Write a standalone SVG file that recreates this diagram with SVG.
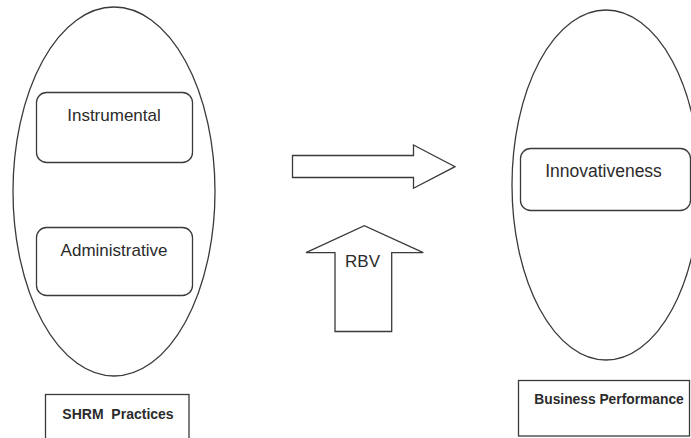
<svg xmlns="http://www.w3.org/2000/svg" width="691" height="438" viewBox="0 0 691 438">
<style>
.shape{fill:#fff;stroke:#3a3a3a;stroke-width:1.3}
.lbl{font-family:"Liberation Sans",Arial,sans-serif;fill:#2b2b2b;text-anchor:middle}
.b{font-weight:bold}
</style>
<rect x="0" y="0" width="691" height="438" fill="#fff"/>
<g id="shrm">
<ellipse class="shape" cx="114" cy="191.5" rx="101" ry="184.5"/>
</g>
<g id="instrumental">
<rect class="shape" x="36.5" y="92.5" width="156" height="70" rx="10"/>
<text class="lbl" x="114" y="120.5" font-size="17">Instrumental</text>
</g>
<g id="administrative">
<rect class="shape" x="36.5" y="227.5" width="156" height="68" rx="10"/>
<text class="lbl" x="114" y="255.5" font-size="17">Administrative</text>
</g>
<g id="shrm-label">
<rect class="shape" x="45.5" y="394.5" width="143.5" height="50"/>
<text class="lbl b" x="118" y="419" font-size="14" xml:space="preserve">SHRM  Practices</text>
</g>
<g id="business">
<ellipse class="shape" cx="606" cy="185" rx="94" ry="175"/>
</g>
<g id="innovativeness">
<rect class="shape" x="520.5" y="148.5" width="170" height="62" rx="10"/>
<text class="lbl" x="603.5" y="176.5" font-size="17.5">Innovativeness</text>
</g>
<g id="business-label">
<rect class="shape" x="518.5" y="380.5" width="171" height="55.5"/>
<text class="lbl b" x="609" y="403.5" font-size="13.8">Business Performance</text>
</g>
<g id="connectors">
<polygon class="shape" points="292.5,155.5 413.5,155.5 413.5,145 455,166.7 413.5,188.3 413.5,177.5 292.5,177.5"/>
<polygon class="shape" points="335,331.5 335,252.7 306,252.7 364.3,225.7 423.3,252.7 391.7,252.7 391.7,331.5"/>
<text class="lbl" x="362.5" y="266.5" font-size="17">RBV</text>
</g>
</svg>
